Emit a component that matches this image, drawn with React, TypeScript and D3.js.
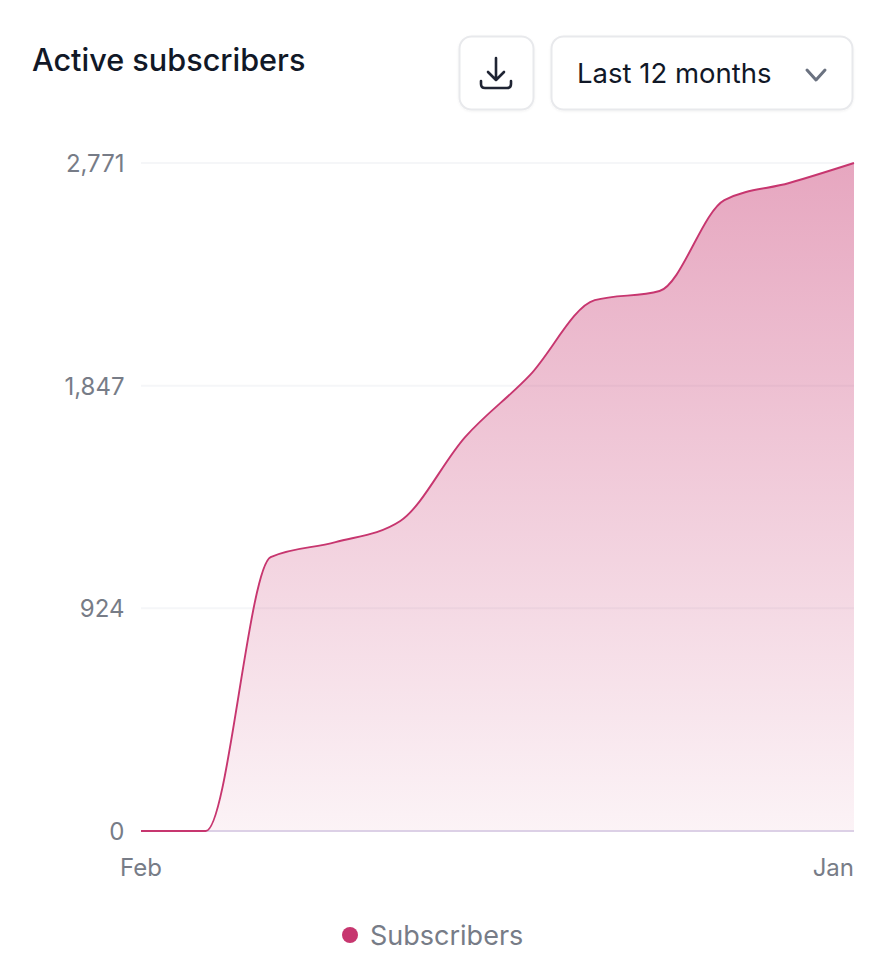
import React from "react";
import * as d3 from "d3";

const months = ["Feb", "Mar", "Apr", "May", "Jun", "Jul", "Aug", "Sep", "Oct", "Nov", "Dec", "Jan"];
const subscribers = [0, 0, 1136, 1198, 1286, 1634, 1891, 2202, 2240, 2617, 2688, 2771];
const yTicks = [0, 924, 1847, 2771];
const edgeLabels = ["Feb", "Jan"];
const FONT = "Inter, 'Noto Sans', sans-serif";

export default function App() {
  const x = d3.scalePoint<string>().domain(months).range([141, 854]);
  const y = d3.scaleLinear().domain([0, 2771]).range([831, 163]);
  const line = d3.line<number>().x((_, i) => x(months[i])!).y((d) => y(d)).curve(d3.curveMonotoneX);
  const area = d3.area<number>().x((_, i) => x(months[i])!).y0(y(0)).y1((d) => y(d)).curve(d3.curveMonotoneX);
  return (
    <svg width={888} height={980} style={{ position: "absolute", left: 0, top: 0, background: "#fff" }} fontFamily={FONT}>
      <defs>
        <linearGradient id="fill" x1="0" y1="0" x2="0" y2="1">
          <stop offset="0%" stopColor="#c7366f" stopOpacity={0.44} />
          <stop offset="100%" stopColor="#c7366f" stopOpacity={0.06} />
        </linearGradient>
        <filter id="soft" x="-10%" y="-10%" width="120%" height="130%">
          <feDropShadow dx="0" dy="1" stdDeviation="1" floodColor="#000" floodOpacity="0.05" />
        </filter>
      </defs>
      <text x={32} y={71} fontSize={30.6} fontWeight={500} fill="#111827">Active subscribers</text>
      <rect x={459.5} y={36.5} width={74} height={73} rx={12} fill="#fff" stroke="#e8e9ec" strokeWidth={2} filter="url(#soft)" />
      <g fill="none" stroke="#1f2433" strokeWidth={2.6} strokeLinecap="round" strokeLinejoin="round">
        <path d="M496 58V80M488 72L496 80L504 72" />
        <path d="M481 81V84Q481 88 485 88H507Q511 88 511 84V81" />
      </g>
      <rect x={551.5} y={36.5} width={301} height={73} rx={12} fill="#fff" stroke="#e8e9ec" strokeWidth={2} filter="url(#soft)" />
      <text x={577} y={83} fontSize={27.5} fill="#111827">Last 12 months</text>
      <path d="M807 70L816 80L825 70" fill="none" stroke="#6b7280" strokeWidth={3} strokeLinecap="round" strokeLinejoin="round" />
      {yTicks.slice(1).map((t) => (
        <line key={t} x1={141} x2={854} y1={y(t)} y2={y(t)} stroke="#f5f6f8" strokeWidth={2} />
      ))}
      <path d={area(subscribers)!} fill="url(#fill)" />
      <line x1={206} x2={854} y1={y(0)} y2={y(0)} stroke="#dcd0e6" strokeWidth={2} />
      <path d={line(subscribers)!} fill="none" stroke="#c7366f" strokeWidth={1.9} />
      {yTicks.map((t) => (
        <text key={t} x={124.5} y={y(t) + 9} textAnchor="end" fontSize={24} fill="#777c87">{d3.format(",")(t)}</text>
      ))}
      <text x={x(edgeLabels[0])} y={876} textAnchor="middle" fontSize={24} fill="#777c87">{edgeLabels[0]}</text>
      <text x={854} y={876} textAnchor="end" fontSize={24} fill="#777c87">{edgeLabels[1]}</text>
      <circle cx={350} cy={935} r={8} fill="#c7366f" />
      <text x={370} y={945} fontSize={27} fill="#777c87">Subscribers</text>
    </svg>
  );
}
